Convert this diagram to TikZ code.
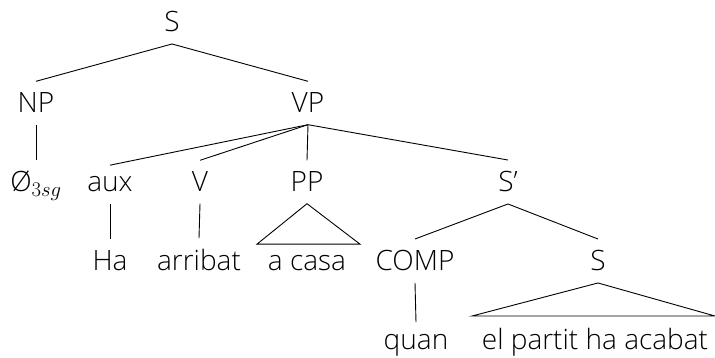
\documentclass[tikz,border=0pt]{standalone}
\usepackage[no-math]{fontspec}
\setmainfont{Open Sans Light}
\usetikzlibrary{calc}
\begin{document}
\begin{tikzpicture}[x=1pt,y=1pt,
  lab/.style={anchor=base,inner xsep=0pt,inner ysep=11.5pt,font=\fontsize{28}{32}\selectfont},
  edge/.style={line width=0.9pt,black}]
\useasboundingbox (0,0) rectangle (715,-358);
\node[lab] (S) at (172,-32) {S};
\node[lab] (NP) at (36,-113) {NP};
\node[lab] (VP) at (308,-113) {VP};
\node[lab] (nul) at (36,-192) {Ø$_{3sg}$};
\node[lab] (aux) at (110,-192) {aux};
\node[lab] (V) at (200,-192) {V};
\node[lab] (PP) at (307,-192) {PP};
\node[lab] (Sbar) at (508,-192) {S’};
\node[lab] (Ha) at (110,-271) {Ha};
\node[lab] (arribat) at (199,-271) {arribat};
\node[lab] (acasa) at (307,-271) {a casa};
\node[lab] (COMP) at (415,-271) {COMP};
\node[lab] (S2) at (598,-271) {S};
\node[lab] (quan) at (416,-349) {quan};
\node[lab] (elp) at (595,-349) {el partit ha acabat};
\draw[edge] (S.south) -- (NP.north);
\draw[edge] (S.south) -- (VP.north);
\draw[edge] (NP.south) -- (nul.north);
\draw[edge] (VP.south) -- (aux.north);
\draw[edge] (VP.south) -- (V.north);
\draw[edge] (VP.south) -- (PP.north);
\draw[edge] (VP.south) -- (Sbar.north);
\draw[edge] (aux.south) -- (Ha.north);
\draw[edge] (V.south) -- (arribat.north);
\draw[edge] (PP.south) -- ($(acasa.north)+(-50,0)$) -- ($(acasa.north)+(53,0)$) -- cycle;
\draw[edge] (Sbar.south) -- (COMP.north);
\draw[edge] (Sbar.south) -- (S2.north);
\draw[edge] (COMP.south) -- (quan.north);
\draw[edge] (S2.south) -- ($(elp.north)+(-123,0)$) -- ($(elp.north)+(120,0)$) -- cycle;
\end{tikzpicture}
\end{document}
